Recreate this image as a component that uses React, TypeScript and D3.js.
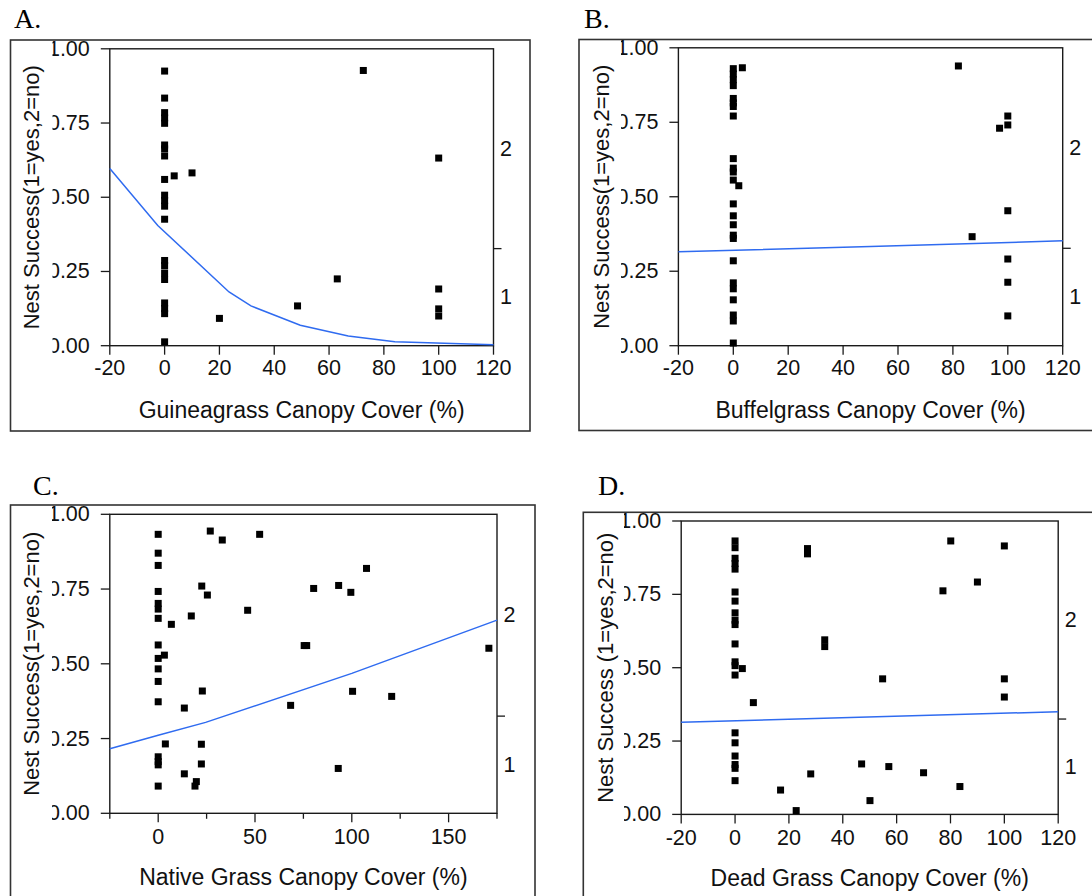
import * as d3 from 'd3';

// panel text
const panelLetters = ['A.', 'B.', 'C.', 'D.'];
const xTitles = [
  'Guineagrass Canopy Cover (%)',
  'Buffelgrass Canopy Cover (%)',
  'Native Grass Canopy Cover (%)',
  'Dead Grass Canopy Cover (%)',
];
const yTitles = [
  'Nest Success(1=yes,2=no)',
  'Nest Success(1=yes,2=no)',
  'Nest Success(1=yes,2=no)',
  'Nest Success (1=yes,2=no)',
];
const yTickValues = [0, 0.25, 0.5, 0.75, 1];
const rightLabels = ['1', '2'];
// share of the right-hand category axis taken by "1"
const successShare = [0.327, 0.327, 0.325, 0.325];

// A. guineagrass
const guineaX = [0, 0, 0, 0, 0, 0, 0, 0, 0, 0, 0, 0, 0, 0, 0, 0, 0, 0, 0, 0, 0, 3.5, 10, 20, 48.5, 63, 72.5, 100, 100, 100, 100];
const guineaY = [0.925, 0.834, 0.785, 0.767, 0.749, 0.676, 0.663, 0.639, 0.56, 0.507, 0.489, 0.47, 0.426, 0.287, 0.27, 0.245, 0.223, 0.144, 0.125, 0.108, 0.013, 0.572, 0.582, 0.092, 0.134, 0.225, 0.927, 0.632, 0.191, 0.124, 0.1];
const guineaFitX = [-20, -2.5, 23.5, 31.5, 49.5, 67, 84, 120];
const guineaFitY = [0.597, 0.405, 0.181, 0.134, 0.069, 0.033, 0.013, 0.003];

// B. buffelgrass
const buffelX = [0, 0, 0, 0, 0, 0, 0, 0, 0, 0, 0, 0, 0, 0, 0, 0, 0, 0, 0, 0, 0, 0, 0, 0, 2, 3.3, 82, 97, 100, 100, 100, 87, 100, 100, 100];
const buffelY = [0.93, 0.912, 0.893, 0.873, 0.83, 0.815, 0.803, 0.771, 0.628, 0.596, 0.583, 0.556, 0.476, 0.436, 0.406, 0.371, 0.36, 0.285, 0.211, 0.191, 0.154, 0.103, 0.083, 0.009, 0.537, 0.933, 0.939, 0.73, 0.771, 0.741, 0.453, 0.366, 0.291, 0.213, 0.1];
const buffelFitX = [-20, 50, 120];
const buffelFitY = [0.315, 0.333, 0.352];

// C. native grass
const nativeX = [0, 0, 0, 0, 0, 0, 0, 0, 0, 0, 0, 0, 0, 0, 0, 0, 3.2, 26.9, 33.1, 22.5, 25.4, 17.1, 6.8, 22.8, 13.5, 3.7, 22.3, 22.3, 13.5, 19.7, 19, 52.4, 107.6, 80.3, 93.2, 99.5, 46.2, 75.4, 76.7, 170.8, 100.4, 120.6, 68.4, 93];
const nativeY = [0.933, 0.87, 0.829, 0.742, 0.702, 0.683, 0.652, 0.563, 0.518, 0.483, 0.441, 0.373, 0.189, 0.173, 0.162, 0.091, 0.529, 0.944, 0.914, 0.76, 0.73, 0.66, 0.632, 0.409, 0.352, 0.232, 0.231, 0.165, 0.132, 0.106, 0.091, 0.933, 0.819, 0.752, 0.762, 0.739, 0.679, 0.561, 0.561, 0.552, 0.408, 0.391, 0.361, 0.15];
const nativeFitX = [-25, 0, 24.5, 100, 175];
const nativeFitY = [0.216, 0.261, 0.304, 0.468, 0.646];

// D. dead grass
const deadX = [0, 0, 0, 0, 0, 0, 0, 0, 0, 0, 0, 0, 0, 0, 0, 0, 0, 0, 0, 0, 2.7, 6.8, 26.9, 26.9, 80.1, 100, 90, 77.2, 33.3, 33.3, 54.8, 100, 100, 47, 57.1, 28.1, 70, 16.9, 83.5, 50.1, 22.7];
const deadY = [0.932, 0.909, 0.873, 0.855, 0.836, 0.758, 0.727, 0.687, 0.662, 0.647, 0.581, 0.52, 0.507, 0.475, 0.278, 0.244, 0.199, 0.17, 0.157, 0.115, 0.497, 0.381, 0.906, 0.888, 0.932, 0.915, 0.792, 0.762, 0.595, 0.572, 0.462, 0.462, 0.4, 0.172, 0.163, 0.138, 0.142, 0.083, 0.095, 0.047, 0.013];
const deadFitX = [-20, 120];
const deadFitY = [0.314, 0.35];

const xTicksPct = [-20, 0, 20, 40, 60, 80, 100, 120];
const xTicksNative = [-25, 0, 25, 50, 75, 100, 125, 150, 175];
const xLabelsNative = [0, 50, 100, 150];

const FONT = 'Liberation Sans, Arial, sans-serif';

const panels = [
  { xs: guineaX, ys: guineaY, fx: guineaFitX, fy: guineaFitY, domain: [-20, 120], ticks: xTicksPct, labels: xTicksPct,
    frame: [10.5, 40, 530, 431], plot: [109.8, 48.8, 493.5, 345.7], clipX: 52.5, yTitleX: 31.5, letter: [14, 28], xLabelY: 368, xTitleY: 410 },
  { xs: buffelX, ys: buffelY, fx: buffelFitX, fy: buffelFitY, domain: [-20, 120], ticks: xTicksPct, labels: xTicksPct,
    frame: [579, 39.5, 1110, 430.5], plot: [678.4, 47.8, 1062.7, 345.7], clipX: 621, yTitleX: 601.5, letter: [584, 28], xLabelY: 368, xTitleY: 410 },
  { xs: nativeX, ys: nativeY, fx: nativeFitX, fy: nativeFitY, domain: [-25, 175], ticks: xTicksNative, labels: xLabelsNative,
    frame: [10.5, 505, 535, 910], plot: [109.8, 514.3, 497, 813.3], clipX: 52, yTitleX: 31.5, letter: [33, 495], xLabelY: 837, xTitleY: 877 },
  { xs: deadX, ys: deadY, fx: deadFitX, fy: deadFitY, domain: [-20, 120], ticks: xTicksPct, labels: xTicksPct,
    frame: [583.3, 512.3, 1110, 910], plot: [681.2, 521, 1058.2, 814.4], clipX: 624, yTitleX: 605, letter: [598, 495], xLabelY: 838, xTitleY: 878 },
];

function Panel({ p, i }: { p: any; i: number }) {
  const [l, t, r, b] = p.plot;
  const x = d3.scaleLinear().domain(p.domain).range([l, r]);
  const y = d3.scaleLinear().domain([0, 1]).range([b, t]);
  const line = d3.line<number>().x((d, k) => x(p.fx[k])).y((d) => y(d));
  const share = successShare[i];
  const rightPos = [y(share / 2), y((1 + share) / 2)];
  const sq = 7;
  const [fx0, fy0, fx1, fy1] = p.frame;
  return (
    <g>
      <defs>
        <clipPath id={`clip${i}`}>
          <rect x={p.clipX} y={t - 20} width={l - p.clipX} height={b - t + 40} />
        </clipPath>
      </defs>
      <rect x={fx0} y={fy0} width={fx1 - fx0} height={fy1 - fy0} fill="none" stroke="#333" strokeWidth={1.6} />
      <text x={p.letter[0]} y={p.letter[1]} fontFamily="Liberation Serif, Times New Roman, serif" fontSize={28}>{panelLetters[i]}</text>
      <rect x={l} y={t} width={r - l} height={b - t} fill="none" stroke="#1a1a1a" strokeWidth={1.4} />
      {yTickValues.map((v) => (
        <line key={v} x1={l - 9} x2={l} y1={y(v)} y2={y(v)} stroke="#1a1a1a" strokeWidth={1.3} />
      ))}
      <g clipPath={`url(#clip${i})`}>
        {yTickValues.map((v) => (
          <text key={v} x={l - 20} y={y(v)} textAnchor="end" dominantBaseline="central" fontFamily={FONT} fontSize={21.5} fill="#111">
            {d3.format('.2f')(v)}
          </text>
        ))}
      </g>
      {p.ticks.map((v: number) => (
        <line key={v} x1={x(v)} x2={x(v)} y1={b} y2={b + (p.labels.includes(v) ? 9 : 5.5)} stroke="#1a1a1a" strokeWidth={1.3} />
      ))}
      {p.labels.map((v: number) => (
        <text key={v} x={x(v)} y={p.xLabelY} textAnchor="middle" dominantBaseline="central" fontFamily={FONT} fontSize={21.5} fill="#111">
          {v}
        </text>
      ))}
      <line x1={r} x2={r + 8} y1={y(share)} y2={y(share)} stroke="#1a1a1a" strokeWidth={1.3} />
      {rightLabels.map((s, k) => (
        <text key={s} x={r + 12.5} y={rightPos[k]} textAnchor="middle" dominantBaseline="central" fontFamily={FONT} fontSize={21.5} fill="#111">
          {s}
        </text>
      ))}
      <text x={(l + r) / 2} y={p.xTitleY} textAnchor="middle" dominantBaseline="central" fontFamily={FONT} fontSize={23} fill="#111">
        {xTitles[i]}
      </text>
      <text transform={`translate(${p.yTitleX},${(t + b) / 2}) rotate(-90)`} textAnchor="middle" dominantBaseline="central" fontFamily={FONT} fontSize={22} fill="#111">
        {yTitles[i]}
      </text>
      {p.xs.map((v: number, k: number) => (
        <rect key={k} x={x(v) - sq / 2} y={y(p.ys[k]) - sq / 2} width={sq} height={sq} fill="#000" />
      ))}
      <path d={line(p.fy) || ''} fill="none" stroke="#2f6bf0" strokeWidth={1.5} />
    </g>
  );
}

export default function App() {
  return (
    <svg width={1092} height={896} style={{ position: 'absolute', left: 0, top: 0, background: '#fff' }}>
      <rect width={1092} height={896} fill="#fff" />
      {panels.map((p, i) => (
        <Panel key={i} p={p} i={i} />
      ))}
    </svg>
  );
}
